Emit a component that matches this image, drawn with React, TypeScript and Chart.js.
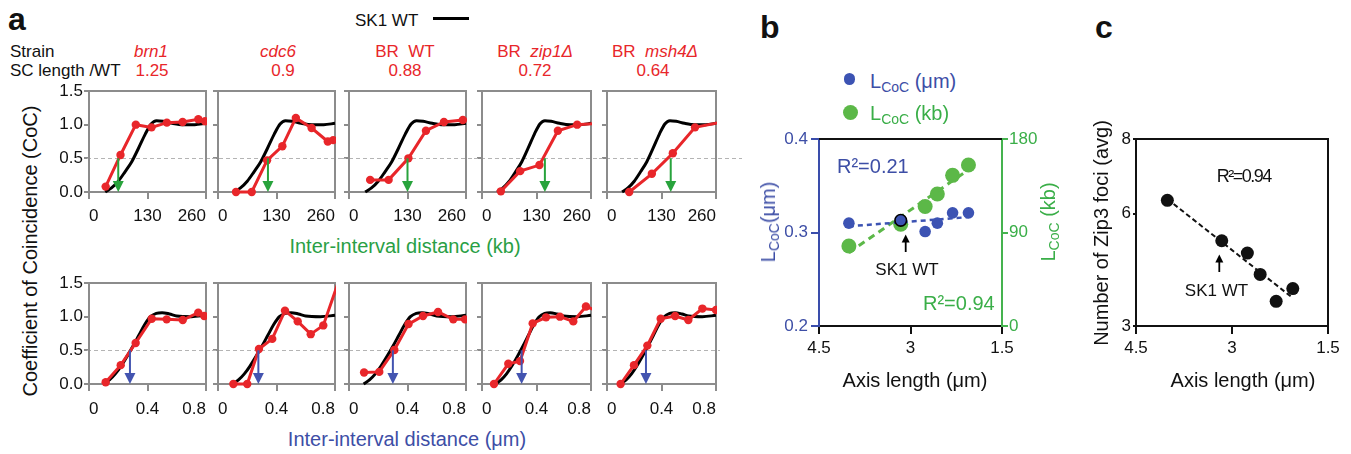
import React, { useEffect, useRef } from 'react';
import { Chart, registerables } from 'chart.js';

Chart.register(...registerables);

const FONT = '"Liberation Sans", Arial, Helvetica, sans-serif';
Chart.defaults.font.family = FONT;

// ---------------- DATA ----------------
const kbTicks = [0, 130, 260];
const umTicks = [0, 0.4, 0.8];
const cocTicks = [0, 0.5, 1, 1.5];
const axisLenTicks = [1.5, 3, 4.5];
const lcocUmTicks = [0.2, 0.3, 0.4];
const lcocKbTicks = [0, 90, 180];
const zip3Ticks = [3, 6, 8];

const scLengthRatio = ['1.25', '0.9', '0.88', '0.72', '0.64'];

// SK1 WT reference curve
const wtKbX = [36, 50, 65, 80, 95, 110, 125, 138, 150, 165, 185, 210, 235, 260];
const wtKbY = [0, 0.06, 0.16, 0.3, 0.45, 0.65, 0.86, 1.01, 1.06, 1.05, 1.02, 1.0, 1.0, 1.02];
const wtUmX = [0.1, 0.14, 0.18, 0.22, 0.26, 0.3, 0.34, 0.38, 0.42, 0.46, 0.5, 0.55, 0.6, 0.7, 0.8];
const wtUmY = [0, 0.06, 0.15, 0.27, 0.41, 0.56, 0.72, 0.88, 1.0, 1.05, 1.06, 1.04, 1.01, 1.0, 1.02];

// strains, kb
const brn1KbX = [37, 70, 104, 139, 173, 208, 243, 258];
const brn1KbY = [0.08, 0.55, 1.0, 0.96, 1.03, 1.04, 1.08, 1.05];
const cdc6KbX = [40, 75, 109, 143, 173, 208, 244, 256];
const cdc6KbY = [0, 0, 0.47, 0.68, 1.1, 0.95, 0.75, 0.77];
const brWtKbX = [47, 88, 132, 171, 211, 253];
const brWtKbY = [0.18, 0.18, 0.5, 0.91, 1.04, 1.07];
const zip1KbX = [45, 91, 137, 181, 227, 275];
const zip1KbY = [0.01, 0.31, 0.4, 0.91, 1.0, 1.02];
const msh4KbX = [53, 107, 157, 210, 275];
const msh4KbY = [0, 0.27, 0.575, 0.96, 1.04];

// strains, um
const brn1UmX = [0.114, 0.217, 0.319, 0.429, 0.531, 0.641, 0.747, 0.788];
const brn1UmY = [0.025, 0.28, 0.61, 0.97, 0.96, 0.95, 1.06, 1.01];
const cdc6UmX = [0.105, 0.2, 0.28, 0.371, 0.458, 0.545, 0.634, 0.72, 0.84];
const cdc6UmY = [0, 0, 0.52, 0.67, 1.09, 0.93, 0.74, 0.87, 1.62];
const brWtUmX = [0.103, 0.207, 0.31, 0.407, 0.506, 0.609, 0.713, 0.793];
const brWtUmY = [0.17, 0.18, 0.505, 0.89, 1.01, 1.07, 0.96, 0.96];
const zip1UmX = [0.088, 0.193, 0.279, 0.372, 0.47, 0.572, 0.67, 0.763, 0.85];
const zip1UmY = [0, 0.3, 0.34, 0.9, 0.99, 1.0, 0.93, 1.15, 1.08];
const msh4UmX = [0.1, 0.198, 0.296, 0.394, 0.5, 0.597, 0.7, 0.8];
const msh4UmY = [0, 0.28, 0.57, 0.97, 1.01, 0.95, 1.12, 1.1];

const kbArrowX = [65, 111, 130, 150, 152];
const umArrowX = [0.28, 0.276, 0.3, 0.291, 0.286];

// panels b, c
const axisLength = [4.01, 3.16, 2.76, 2.56, 2.31, 2.05];
const lcocUm = [0.31, 0.313, 0.301, 0.31, 0.321, 0.321];
const lcocKb = [77, 98, 115, 127, 145, 155];
const zip3Foci = [6.36, 5.28, 4.95, 4.38, 3.66, 4.0];
const wtIndex = 1;

const redKbX = [brn1KbX, cdc6KbX, brWtKbX, zip1KbX, msh4KbX];
const redKbY = [brn1KbY, cdc6KbY, brWtKbY, zip1KbY, msh4KbY];
const redUmX = [brn1UmX, cdc6UmX, brWtUmX, zip1UmX, msh4UmX];
const redUmY = [brn1UmY, cdc6UmY, brWtUmY, zip1UmY, msh4UmY];

// ---------------- STYLE / LAYOUT ----------------
const GRAY = '#8c8c8c';
const RED = '#e8262a';
const GREEN_TXT = '#2a9f45';
const GREEN_ARROW = '#28a33c';
const BLUE_TXT = '#3d4ea6';
const BLUE_ARROW = '#4354b0';
const BLUE_DOT = '#3c53b3';
const GREEN_DOT = '#5cb848';
const BLUE_AX = '#3a4dab';
const GREEN_AX = '#45b34f';
const GREEN_B = '#3aae48';

const COL_PLOT_L = [89, 218, 349, 482, 607];
const COL_PLOT_R = [206, 335, 466, 591, 716];
const COL_CANVAS_L = [46, 212, 342, 474, 599];
const COL_CANVAS_R = [212, 342, 474, 599, 742];
const ROW_PLOT_TOP = [91, 283];
const ROW_PLOT_BOTTOM = [192, 384];
const PAD_TOP = 10;
const X_AXIS_H = 38;

const pts = (xs: number[], ys: number[]) => xs.map((x, i) => ({ x, y: ys[i] }));

function fitLine(xs: number[], ys: number[]) {
  const n = xs.length;
  const mx = xs.reduce((a, b) => a + b, 0) / n;
  const my = ys.reduce((a, b) => a + b, 0) / n;
  let sxy = 0;
  let sxx = 0;
  for (let i = 0; i < n; i++) {
    sxy += (xs[i] - mx) * (ys[i] - my);
    sxx += (xs[i] - mx) * (xs[i] - mx);
  }
  const slope = sxy / sxx;
  const x0 = Math.max(...xs);
  const x1 = Math.min(...xs);
  return [
    { x: x0, y: my + slope * (x0 - mx) },
    { x: x1, y: my + slope * (x1 - mx) },
  ];
}

function ChartCanvas({ left, top, width, height, make }: { left: number; top: number; width: number; height: number; make: () => any }) {
  const ref = useRef<HTMLCanvasElement | null>(null);
  useEffect(() => {
    if (!ref.current) return;
    const chart = new Chart(ref.current, make());
    return () => chart.destroy();
  }, []);
  return (
    <canvas
      ref={ref}
      width={width}
      height={height}
      style={{ position: 'absolute', left, top, width, height, display: 'block' }}
    />
  );
}

function Txt({ x, base, size = 17, color = '#111', align = 'left', bold = false, italic = false, ls = 0, children }: any) {
  const tx = align === 'center' ? '-50%' : align === 'right' ? '-100%' : '0';
  return (
    <div
      style={{
        position: 'absolute',
        left: x,
        top: base - 0.8465 * size,
        fontFamily: FONT,
        fontSize: size,
        lineHeight: `${size}px`,
        color,
        fontWeight: bold ? 700 : 400,
        fontStyle: italic ? 'italic' : 'normal',
        whiteSpace: 'pre',
        letterSpacing: ls,
        transform: `translateX(${tx})`,
      }}
    >
      {children}
    </div>
  );
}

function VTxt({ cx, cy, size = 20, color = '#111', children }: any) {
  return (
    <div
      style={{
        position: 'absolute',
        left: cx,
        top: cy,
        fontFamily: FONT,
        fontSize: size,
        lineHeight: `${size}px`,
        color,
        whiteSpace: 'pre',
        transform: 'translate(-50%, -50%) rotate(-90deg)',
      }}
    >
      {children}
    </div>
  );
}

const Sub = ({ children }: any) => (
  <span style={{ fontSize: 14, position: 'relative', top: 4 }}>{children}</span>
);

function panelPlugin(arrowX: number, arrowColor: string, dashStart: number, dashEnd: number) {
  return {
    id: 'panelDecor',
    beforeDatasetsDraw(chart: any) {
      const { ctx, chartArea, scales } = chart;
      const y = Math.round(scales.y.getPixelForValue(0.5)) + 0.5;
      ctx.save();
      ctx.strokeStyle = '#b4b4b4';
      ctx.lineWidth = 1;
      ctx.setLineDash([4, 3]);
      ctx.beginPath();
      ctx.moveTo(dashStart, y);
      ctx.lineTo(dashEnd, y);
      ctx.stroke();
      ctx.setLineDash([]);
      ctx.strokeStyle = GRAY;
      ctx.lineWidth = 2;
      ctx.strokeRect(chartArea.left, chartArea.top, chartArea.right - chartArea.left, chartArea.bottom - chartArea.top);
      ctx.restore();
    },
    afterDatasetsDraw(chart: any) {
      const { ctx, scales } = chart;
      const x = scales.x.getPixelForValue(arrowX);
      const y0 = scales.y.getPixelForValue(0.5);
      const y1 = scales.y.getPixelForValue(0);
      ctx.save();
      ctx.strokeStyle = arrowColor;
      ctx.fillStyle = arrowColor;
      ctx.lineWidth = 2;
      ctx.beginPath();
      ctx.moveTo(x, y0);
      ctx.lineTo(x, y1 - 9);
      ctx.stroke();
      ctx.beginPath();
      ctx.moveTo(x - 5.5, y1 - 11);
      ctx.lineTo(x + 5.5, y1 - 11);
      ctx.lineTo(x, y1);
      ctx.closePath();
      ctx.fill();
      ctx.restore();
    },
  };
}

function SmallPanel({ row, col }: { row: number; col: number }) {
  const left = COL_CANVAS_L[col];
  const right = COL_CANVAS_R[col];
  const width = right - left;
  const top = ROW_PLOT_TOP[row] - PAD_TOP;
  const plotH = ROW_PLOT_BOTTOM[row] - ROW_PLOT_TOP[row];
  const height = PAD_TOP + plotH + X_AXIS_H;
  const yW = COL_PLOT_L[col] - left;
  const padR = right - COL_PLOT_R[col];
  const isKb = row === 0;
  const xMax = isKb ? 260 : 0.8;
  const xTicks = isKb ? kbTicks : umTicks;
  const redX = isKb ? redKbX[col] : redUmX[col];
  const redY = isKb ? redKbY[col] : redUmY[col];
  const wtX = isKb ? wtKbX : wtUmX;
  const wtY = isKb ? wtKbY : wtUmY;
  const arrowX = isKb ? kbArrowX[col] : umArrowX[col];
  const arrowColor = isKb ? GREEN_ARROW : BLUE_ARROW;
  const dashStart = col === 0 ? yW - 2 : 0;
  const dashEnd = col === 4 ? (isKb ? width : COL_PLOT_R[4] + 4 - left) : width;

  const make = () => ({
    type: 'line',
    data: {
      datasets: [
        {
          data: pts(redX, redY),
          borderColor: RED,
          backgroundColor: RED,
          borderWidth: 3,
          pointRadius: redX.map((x) => (x > xMax ? 0 : 4.2)),
          pointBackgroundColor: RED,
          pointBorderWidth: 0,
          pointHoverRadius: 0,
          tension: 0,
          clip: { left: 8, top: 0, right: 1, bottom: 8 },
        },
        {
          data: pts(wtX, wtY),
          borderColor: '#000',
          borderWidth: 3,
          pointRadius: 0,
          cubicInterpolationMode: 'monotone',
          clip: { left: 8, top: 8, right: 1, bottom: 8 },
        },
      ],
    },
    options: {
      responsive: false,
      animation: false,
      devicePixelRatio: 1,
      events: [],
      layout: { padding: { top: PAD_TOP, right: padR, left: 0, bottom: 0 } },
      plugins: { legend: { display: false }, tooltip: { enabled: false } },
      scales: {
        x: {
          type: 'linear',
          min: 0,
          max: xMax,
          afterBuildTicks: (s: any) => {
            s.ticks = xTicks.map((v) => ({ value: v }));
          },
          afterFit: (s: any) => {
            s.height = X_AXIS_H;
            s.paddingLeft = 0;
            s.paddingRight = 0;
          },
          ticks: {
            align: 'inner',
            autoSkip: false,
            maxRotation: 0,
            padding: isKb ? 7 : 8,
            color: '#111',
            font: { size: 17 },
            callback: (v: any) => (isKb ? String(v) : Number(v) === 0 ? '0' : Number(v).toFixed(1)),
          },
          grid: { drawOnChartArea: false, drawTicks: true, tickLength: 7, color: GRAY, lineWidth: 2 },
          border: { display: true, color: GRAY, width: 2 },
        },
        y: {
          type: 'linear',
          min: 0,
          max: 1.5,
          afterBuildTicks: (s: any) => {
            s.ticks = cocTicks.map((v) => ({ value: v }));
          },
          afterFit: (s: any) => {
            s.width = yW;
            s.paddingTop = 0;
            s.paddingBottom = 0;
          },
          ticks: {
            display: col === 0,
            padding: 1,
            color: '#111',
            font: { size: 17 },
            callback: (v: any) => Number(v).toFixed(1),
          },
          grid: { drawOnChartArea: false, drawTicks: true, tickLength: 5, color: GRAY, lineWidth: 2 },
          border: { display: true, color: GRAY, width: 2 },
        },
      },
    },
    plugins: [panelPlugin(arrowX, arrowColor, dashStart, dashEnd)],
  });

  return <ChartCanvas left={left} top={top} width={width} height={height} make={make} />;
}

function PanelB() {
  const make = () => ({
    type: 'scatter',
    data: {
      datasets: [
        {
          data: pts(axisLength, lcocUm),
          yAxisID: 'y',
          pointRadius: 5.8,
          pointBackgroundColor: BLUE_DOT,
          pointBorderColor: axisLength.map((_, i) => (i === wtIndex ? '#000' : BLUE_DOT)),
          pointBorderWidth: axisLength.map((_, i) => (i === wtIndex ? 1.6 : 0)),
        },
        {
          data: fitLine(axisLength, lcocUm),
          yAxisID: 'y',
          showLine: true,
          borderColor: BLUE_DOT,
          borderWidth: 2.5,
          borderDash: [5, 4],
          pointRadius: 0,
        },
        {
          data: fitLine(axisLength, lcocKb),
          yAxisID: 'y1',
          showLine: true,
          borderColor: GREEN_DOT,
          borderWidth: 3,
          borderDash: [7, 5],
          pointRadius: 0,
        },
        {
          data: pts(axisLength, lcocKb),
          yAxisID: 'y1',
          pointRadius: 7.5,
          pointBackgroundColor: GREEN_DOT,
          pointBorderWidth: 0,
        },
      ],
    },
    options: {
      responsive: false,
      animation: false,
      devicePixelRatio: 1,
      events: [],
      layout: { padding: { top: 14, right: 0, left: 0, bottom: 0 } },
      plugins: { legend: { display: false }, tooltip: { enabled: false } },
      scales: {
        x: {
          type: 'linear',
          min: 1.5,
          max: 4.5,
          reverse: true,
          afterBuildTicks: (s: any) => {
            s.ticks = axisLenTicks.map((v) => ({ value: v }));
          },
          afterFit: (s: any) => {
            s.height = 45;
            s.paddingLeft = 0;
            s.paddingRight = 0;
          },
          ticks: { autoSkip: false, maxRotation: 0, padding: 4, color: '#111', font: { size: 17 }, callback: (v: any) => String(v) },
          grid: { drawOnChartArea: false, tickLength: 8, color: '#111', lineWidth: 2 },
          border: { display: true, color: '#111', width: 2 },
        },
        y: {
          type: 'linear',
          position: 'left',
          min: 0.2,
          max: 0.4,
          afterBuildTicks: (s: any) => {
            s.ticks = lcocUmTicks.map((v) => ({ value: v }));
          },
          afterFit: (s: any) => {
            s.width = 49;
            s.paddingTop = 0;
            s.paddingBottom = 0;
          },
          ticks: { padding: 3, color: BLUE_TXT, font: { size: 17 }, callback: (v: any) => Number(v).toFixed(1) },
          grid: { drawOnChartArea: false, tickLength: 8, color: BLUE_AX, lineWidth: 2 },
          border: { display: true, color: BLUE_AX, width: 2 },
        },
        y1: {
          type: 'linear',
          position: 'right',
          min: 0,
          max: 180,
          afterBuildTicks: (s: any) => {
            s.ticks = lcocKbTicks.map((v) => ({ value: v }));
          },
          afterFit: (s: any) => {
            s.width = 68;
            s.paddingTop = 0;
            s.paddingBottom = 0;
          },
          ticks: { padding: 1, color: GREEN_B, font: { size: 17 }, callback: (v: any) => String(v) },
          grid: { drawOnChartArea: false, tickLength: 6, color: GREEN_AX, lineWidth: 2 },
          border: { display: true, color: GREEN_AX, width: 2 },
        },
      },
    },
    plugins: [
      {
        id: 'topBorder',
        beforeDatasetsDraw(chart: any) {
          const { ctx, chartArea } = chart;
          ctx.save();
          ctx.strokeStyle = '#111';
          ctx.lineWidth = 2;
          ctx.beginPath();
          ctx.moveTo(chartArea.left, chartArea.top);
          ctx.lineTo(chartArea.right, chartArea.top);
          ctx.stroke();
          ctx.restore();
        },
      },
    ],
  });
  return <ChartCanvas left={770} top={125} width={300} height={246} make={make} />;
}

function PanelC() {
  const make = () => ({
    type: 'scatter',
    data: {
      datasets: [
        {
          data: pts(axisLength, zip3Foci),
          pointRadius: 6.5,
          pointBackgroundColor: '#111',
          pointBorderWidth: 0,
        },
        {
          data: fitLine(axisLength, zip3Foci),
          showLine: true,
          borderColor: '#111',
          borderWidth: 2,
          borderDash: [5, 3],
          pointRadius: 0,
        },
      ],
    },
    options: {
      responsive: false,
      animation: false,
      devicePixelRatio: 1,
      events: [],
      layout: { padding: { top: 14, right: 23, left: 0, bottom: 0 } },
      plugins: { legend: { display: false }, tooltip: { enabled: false } },
      scales: {
        x: {
          type: 'linear',
          min: 1.5,
          max: 4.5,
          reverse: true,
          afterBuildTicks: (s: any) => {
            s.ticks = axisLenTicks.map((v) => ({ value: v }));
          },
          afterFit: (s: any) => {
            s.height = 45;
            s.paddingLeft = 0;
            s.paddingRight = 0;
          },
          ticks: { autoSkip: false, maxRotation: 0, padding: 4, color: '#111', font: { size: 17 }, callback: (v: any) => String(v) },
          grid: { drawOnChartArea: false, tickLength: 8, color: '#111', lineWidth: 2 },
          border: { display: true, color: '#111', width: 2 },
        },
        y: {
          type: 'linear',
          min: 3,
          max: 8,
          afterBuildTicks: (s: any) => {
            s.ticks = zip3Ticks.map((v) => ({ value: v }));
          },
          afterFit: (s: any) => {
            s.width = 36;
            s.paddingTop = 0;
            s.paddingBottom = 0;
          },
          ticks: { padding: 2, color: '#111', font: { size: 17 }, callback: (v: any) => String(v) },
          grid: { drawOnChartArea: false, tickLength: 3, color: '#111', lineWidth: 2 },
          border: { display: true, color: '#111', width: 2 },
        },
      },
    },
    plugins: [
      {
        id: 'frame',
        beforeDatasetsDraw(chart: any) {
          const { ctx, chartArea } = chart;
          ctx.save();
          ctx.strokeStyle = '#111';
          ctx.lineWidth = 2;
          ctx.strokeRect(chartArea.left, chartArea.top, chartArea.right - chartArea.left, chartArea.bottom - chartArea.top);
          ctx.restore();
        },
      },
    ],
  });
  return <ChartCanvas left={1100} top={125} width={251} height={246} make={make} />;
}

const strainLabelX = [151, 278, 405, 535, 655];
const ratioLabelX = [152, 283, 405, 535, 653];

export default function App() {
  const cols = [0, 1, 2, 3, 4];
  return (
    <div style={{ position: 'absolute', left: 0, top: 0, width: 1351, height: 454, background: '#fff', overflow: 'hidden' }}>
      {cols.map((c) => (
        <SmallPanel key={'t' + c} row={0} col={c} />
      ))}
      {cols.map((c) => (
        <SmallPanel key={'b' + c} row={1} col={c} />
      ))}
      <PanelB />
      <PanelC />

      {/* panel a text */}
      <Txt x={8} base={30} size={32} bold>a</Txt>
      <Txt x={355} base={26.5} size={17}>SK1 WT</Txt>
      <Txt x={10} base={57} size={17}>Strain</Txt>
      <Txt x={10} base={76.5} size={17}>SC length /WT</Txt>
      <Txt x={strainLabelX[0]} base={57} size={17} color={RED} align="center" italic>brn1</Txt>
      <Txt x={strainLabelX[1]} base={57} size={17} color={RED} align="center" italic>cdc6</Txt>
      <Txt x={strainLabelX[2]} base={57} size={17} color={RED} align="center">{'BR  WT'}</Txt>
      <Txt x={strainLabelX[3]} base={57} size={17} color={RED} align="center">
        {'BR  '}
        <i>zip1Δ</i>
      </Txt>
      <Txt x={strainLabelX[4]} base={57} size={17} color={RED} align="center">
        {'BR  '}
        <i>msh4Δ</i>
      </Txt>
      {scLengthRatio.map((r, i) => (
        <Txt key={r} x={ratioLabelX[i]} base={76.5} size={17} color={RED} align="center">
          {r}
        </Txt>
      ))}
      <VTxt cx={30} cy={251} size={20}>Coefficient of Coincidence (CoC)</VTxt>
      <Txt x={405} base={252.5} size={20} color={GREEN_TXT} align="center">Inter-interval distance (kb)</Txt>
      <Txt x={407} base={446} size={20} color={BLUE_TXT} align="center">Inter-interval distance (μm)</Txt>

      {/* panel b text */}
      <Txt x={760} base={38} size={32} bold>b</Txt>
      <div style={{ position: 'absolute', left: 849.3 - 5.8, top: 79 - 5.8, width: 11.6, height: 11.6, borderRadius: '50%', background: BLUE_DOT }} />
      <div style={{ position: 'absolute', left: 850 - 7.5, top: 112.3 - 7.5, width: 15, height: 15, borderRadius: '50%', background: GREEN_DOT }} />
      <Txt x={870} base={88.3} size={20} color={BLUE_TXT}>
        L<Sub>CoC</Sub> (μm)
      </Txt>
      <Txt x={870} base={120} size={20} color={GREEN_B}>
        L<Sub>CoC</Sub> (kb)
      </Txt>
      <VTxt cx={768.5} cy={222} size={20} color={BLUE_TXT}>
        L<Sub>CoC</Sub>(μm)
      </VTxt>
      <VTxt cx={1049} cy={222} size={20} color={GREEN_B}>
        L<Sub>CoC</Sub> (kb)
      </VTxt>
      <Txt x={837} base={173} size={20} color={BLUE_TXT}>R²=0.21</Txt>
      <Txt x={923} base={310} size={20} color={GREEN_B}>R²=0.94</Txt>
      <Txt x={907} base={275} size={17} align="center">SK1 WT</Txt>
      <Txt x={915} base={386.5} size={20} align="center">Axis length (μm)</Txt>

      {/* panel c text */}
      <Txt x={1095} base={38} size={32} bold>c</Txt>
      <VTxt cx={1101} cy={233} size={20}>Number of Zip3 foci (avg)</VTxt>
      <Txt x={1216.7} base={182.5} size={18} ls={-1.5}>R²=0.94</Txt>
      <Txt x={1216.5} base={296} size={17} align="center">SK1 WT</Txt>
      <Txt x={1243} base={386.5} size={20} align="center">Axis length (μm)</Txt>

      <svg width={1351} height={454} style={{ position: 'absolute', left: 0, top: 0, pointerEvents: 'none' }}>
        <line x1={433} y1={18.5} x2={469} y2={18.5} stroke="#000" strokeWidth={3} />
        <line x1={905.7} y1={252} x2={905.7} y2={241} stroke="#000" strokeWidth={1.8} />
        <polygon points="901.7,242.5 909.7,242.5 905.7,234.5" fill="#000" />
        <line x1={1219.3} y1={272} x2={1219.3} y2={261} stroke="#000" strokeWidth={1.8} />
        <polygon points="1215.3,262.5 1223.3,262.5 1219.3,254.5" fill="#000" />
      </svg>
    </div>
  );
}
